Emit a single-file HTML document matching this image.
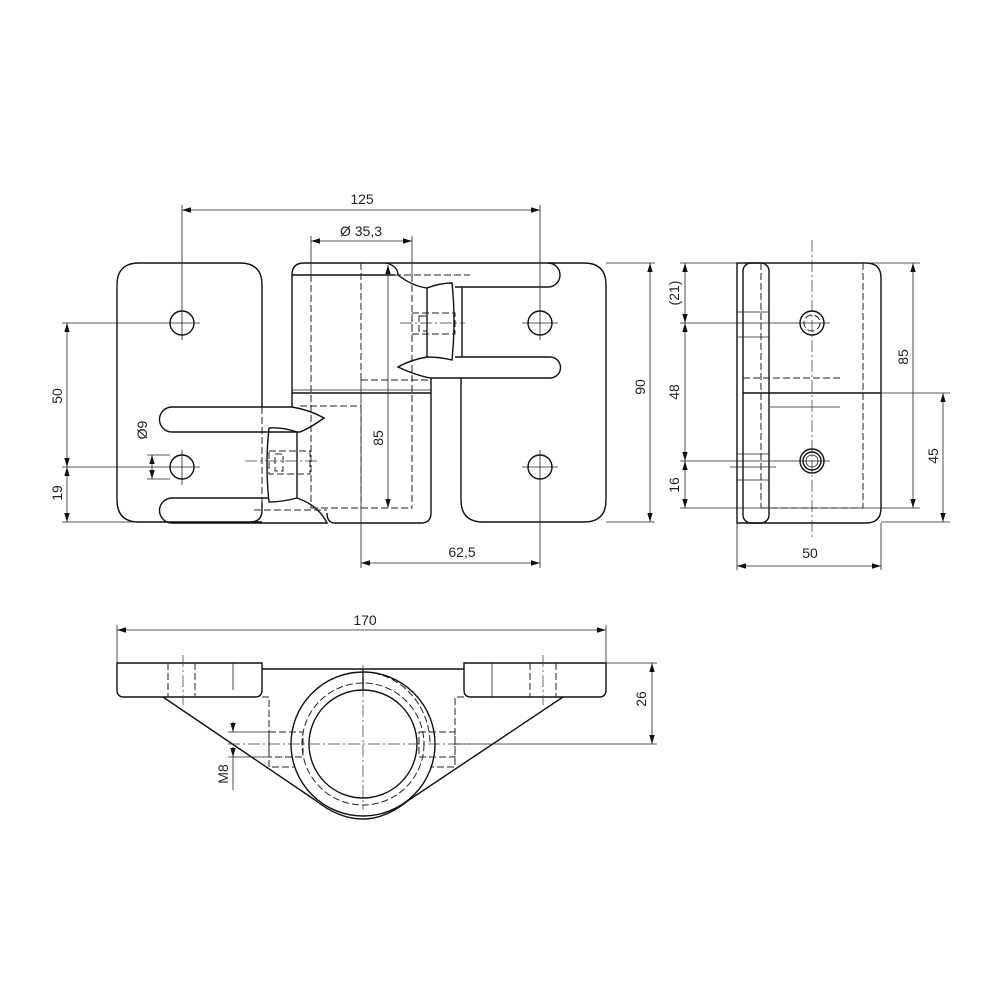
<!DOCTYPE html>
<html><head><meta charset="utf-8"><style>
html,body{margin:0;padding:0;background:#fff}
svg{display:block}
text{font-family:"Liberation Sans",sans-serif;font-size:14px;fill:#222}
.o{fill:none;stroke:#111;stroke-width:1.4}
.t{fill:none;stroke:#222;stroke-width:0.8}
.d{fill:none;stroke:#222;stroke-width:1;stroke-dasharray:7 3}
.c{fill:none;stroke:#333;stroke-width:0.7;stroke-dasharray:12 3 2 3}
</style></head><body>
<svg width="1000" height="1000" viewBox="0 0 1000 1000">
<defs>
<marker id="a" viewBox="0 0 10 10" refX="10" refY="5" markerWidth="9" markerHeight="9" orient="auto-start-reverse" markerUnits="userSpaceOnUse"><path d="M0,2 L10,5 L0,8z" fill="#111"/></marker>
</defs>

<!-- ========== FRONT VIEW ========== -->
<!-- left plate -->
<path class="o" d="M262,407 V285 Q262,263 240,263 H139 Q117,263 117,285 V500 Q117,522 139,522"/>
<path class="o" d="M262,502 V510 Q262,522 250,522"/>
<!-- right plate -->
<path class="o" d="M461,378 V500 Q461,522 483,522 H584 Q606,522 606,500 V285 Q606,263 584,263 H304 Q292,263 292,275 V407"/>
<line class="o" x1="462" y1="287" x2="462" y2="357"/>
<!-- upper slots -->
<path class="o" d="M455,287 H548 A12,12 0 0 0 548,263"/>
<path class="o" d="M430,378 H550 A10.5,10.5 0 0 0 550,357 H455"/>
<!-- upper knuckle -->
<path class="o" d="M386,263 Q398,266 398,275 Q412,286 427,288 V357 Q410,360 398,367 Q415,375 430,378"/>
<path class="o" d="M427,288 Q440,283 452,283 Q456,320 452,360 Q440,357 427,357"/>
<!-- body -->
<line class="o" x1="292" y1="275" x2="395" y2="275"/>
<line class="t" x1="292" y1="390" x2="431" y2="390"/>
<line class="o" x1="292" y1="393" x2="431" y2="393"/>
<path class="o" d="M431,378 V513 Q431,523 421,523 H335 Q327,523 327,513"/>
<!-- lower slots -->
<path class="o" d="M292,407 H172 A12.5,12.5 0 0 0 172,432 H300"/>
<path class="o" d="M292,407 Q310,410 324,418 Q310,428 300,432"/>
<path class="o" d="M269,428 Q282,427 297,432 V498 Q282,502 269,502 Q265,465 269,428"/>
<path class="o" d="M269,498 H172 A12.5,12.5 0 0 0 172,523 H327 Q318,505 297,498"/>
<line class="o" x1="139" y1="522" x2="262" y2="522"/>
<!-- hidden lines -->
<line class="d" x1="311" y1="275" x2="311" y2="508"/>
<line class="d" x1="361" y1="263" x2="361" y2="380"/>
<line class="d" x1="412" y1="275" x2="412" y2="508"/>
<line class="d" x1="361" y1="380" x2="430" y2="380"/>
<line class="d" x1="300" y1="406" x2="361" y2="406"/>
<line class="d" x1="361" y1="406" x2="361" y2="508"/>
<line class="d" x1="311" y1="508" x2="412" y2="508"/>
<line class="d" x1="254" y1="510" x2="327" y2="510"/>
<line class="d" x1="394" y1="275" x2="470" y2="275"/>
<line class="d" x1="262" y1="407" x2="262" y2="510"/>
<!-- screws -->
<rect class="d" x="412" y="313" width="43" height="21"/>
<rect class="d" x="419" y="316" width="8" height="15"/>
<rect class="d" x="269" y="451" width="41" height="23"/>
<rect class="d" x="275" y="454" width="8" height="17"/>
<line class="c" x1="400" y1="323" x2="465" y2="323"/>
<line class="c" x1="245" y1="461" x2="320" y2="461"/>
<!-- holes -->
<circle class="o" cx="182" cy="323" r="12"/><circle class="o" cx="182" cy="467" r="12"/>
<circle class="o" cx="540" cy="323" r="12"/><circle class="o" cx="540" cy="467" r="12"/>
<g class="t">
<line x1="182" y1="205" x2="182" y2="340"/><line x1="182" y1="450" x2="182" y2="485"/>
<line x1="540" y1="205" x2="540" y2="340"/><line x1="540" y1="450" x2="540" y2="568"/>
<line x1="62" y1="323" x2="200" y2="323"/><line x1="62" y1="467" x2="200" y2="467"/>
<line x1="522" y1="323" x2="558" y2="323"/><line x1="522" y1="467" x2="558" y2="467"/>
<line x1="62" y1="522" x2="139" y2="522"/>
<line x1="311" y1="236" x2="311" y2="275"/><line x1="412" y1="236" x2="412" y2="275"/>
<line x1="361" y1="380" x2="361" y2="568"/>
<line x1="606" y1="263" x2="655" y2="263"/><line x1="606" y1="522" x2="655" y2="522"/>
<line x1="147" y1="455" x2="170" y2="455"/><line x1="147" y1="479" x2="170" y2="479"/>
</g>
<!-- front dims -->
<g class="t">
<line x1="182" y1="210" x2="540" y2="210" marker-start="url(#a)" marker-end="url(#a)"/>
<line x1="311" y1="241" x2="412" y2="241" marker-start="url(#a)" marker-end="url(#a)"/>
<line x1="67" y1="323" x2="67" y2="467" marker-start="url(#a)" marker-end="url(#a)"/>
<line x1="67" y1="467" x2="67" y2="522" marker-start="url(#a)" marker-end="url(#a)"/>
<line x1="152" y1="455" x2="152" y2="479" marker-start="url(#a)" marker-end="url(#a)"/>
<line x1="388" y1="265" x2="388" y2="508" marker-start="url(#a)" marker-end="url(#a)"/>
<line x1="650" y1="263" x2="650" y2="522" marker-start="url(#a)" marker-end="url(#a)"/>
<line x1="361" y1="563" x2="540" y2="563" marker-start="url(#a)" marker-end="url(#a)"/>
</g>
<text x="362" y="204" text-anchor="middle">125</text>
<text x="361" y="236" text-anchor="middle">Ø 35,3</text>
<text x="462" y="557" text-anchor="middle">62,5</text>
<text transform="translate(62,396) rotate(-90)" text-anchor="middle">50</text>
<text transform="translate(62,493) rotate(-90)" text-anchor="middle">19</text>
<text transform="translate(147,430) rotate(-90)" text-anchor="middle">Ø9</text>
<text transform="translate(383,438) rotate(-90)" text-anchor="middle">85</text>
<text transform="translate(645,387) rotate(-90)" text-anchor="middle">90</text>

<!-- ========== SIDE VIEW ========== -->
<path class="o" d="M737,263 H866 Q881,263 881,278 V508 Q881,523 866,523 H737 Z"/>
<rect class="o" x="743" y="263" width="26" height="260" rx="8"/>
<line class="d" x1="761" y1="263" x2="761" y2="508"/>
<line class="d" x1="863" y1="263" x2="863" y2="508"/>
<line class="d" x1="761" y1="508" x2="863" y2="508"/>
<line class="o" x1="743" y1="393" x2="881" y2="393"/>
<line class="d" x1="743" y1="378" x2="840" y2="378"/>
<line class="t" x1="770" y1="407" x2="840" y2="407"/>
<g class="t"><line x1="737" y1="312" x2="769" y2="312"/><line x1="737" y1="337" x2="769" y2="337"/><line x1="737" y1="454" x2="769" y2="454"/><line x1="737" y1="480" x2="769" y2="480"/><line x1="730" y1="467" x2="776" y2="467"/></g>
<line class="c" x1="812" y1="240" x2="812" y2="540"/>
<circle class="o" cx="812" cy="323" r="12"/><circle class="d" cx="812" cy="323" r="8"/>
<circle class="o" cx="812" cy="461" r="12"/><circle class="o" cx="812" cy="461" r="9"/><circle class="t" cx="812" cy="461" r="6"/>
<g class="t">
<line x1="680" y1="263" x2="920" y2="263"/><line x1="680" y1="508" x2="920" y2="508"/>
<line x1="680" y1="323" x2="830" y2="323"/><line x1="680" y1="461" x2="830" y2="461"/>
<line x1="881" y1="393" x2="950" y2="393"/><line x1="881" y1="522" x2="950" y2="522"/>
<line x1="737" y1="523" x2="737" y2="570"/><line x1="881" y1="523" x2="881" y2="570"/>
<line x1="685" y1="263" x2="685" y2="323" marker-start="url(#a)" marker-end="url(#a)"/>
<line x1="685" y1="323" x2="685" y2="461" marker-start="url(#a)" marker-end="url(#a)"/>
<line x1="685" y1="461" x2="685" y2="508" marker-start="url(#a)" marker-end="url(#a)"/>
<line x1="913" y1="263" x2="913" y2="508" marker-start="url(#a)" marker-end="url(#a)"/>
<line x1="943" y1="393" x2="943" y2="522" marker-start="url(#a)" marker-end="url(#a)"/>
<line x1="737" y1="566" x2="881" y2="566" marker-start="url(#a)" marker-end="url(#a)"/>
</g>
<text transform="translate(679,293) rotate(-90)" text-anchor="middle">(21)</text>
<text transform="translate(679,392) rotate(-90)" text-anchor="middle">48</text>
<text transform="translate(679,485) rotate(-90)" text-anchor="middle">16</text>
<text transform="translate(908,357) rotate(-90)" text-anchor="middle">85</text>
<text transform="translate(938,456) rotate(-90)" text-anchor="middle">45</text>
<text x="810" y="558" text-anchor="middle">50</text>

<!-- ========== BOTTOM VIEW ========== -->
<path class="o" d="M262,663 V690 Q262,697 255,697 H124 Q117,697 117,690 V663 Z"/>
<path class="o" d="M464,663 V690 Q464,697 471,697 H599 Q606,697 606,690 V663 Z"/>
<line class="o" x1="262" y1="669" x2="464" y2="669"/>
<g class="d"><line x1="168" y1="663" x2="168" y2="697"/><line x1="195" y1="663" x2="195" y2="697"/><line x1="530" y1="663" x2="530" y2="697"/><line x1="556" y1="663" x2="556" y2="697"/></g>
<g class="c"><line x1="183" y1="655" x2="183" y2="705"/><line x1="543" y1="655" x2="543" y2="705"/></g>
<line class="t" x1="233" y1="663" x2="233" y2="690"/><line class="t" x1="492" y1="663" x2="492" y2="697"/>
<path class="d" d="M262,697 H269 V767 H294"/>
<path class="d" d="M464,697 H455 V767 H430"/>
<line class="o" x1="163" y1="697" x2="315" y2="800"/>
<line class="o" x1="563" y1="697" x2="409" y2="800"/>
<path class="o" d="M315,800 Q363,838 409,800"/>
<circle class="o" cx="363" cy="744" r="72"/>
<circle class="d" cx="363" cy="744" r="61"/>
<circle class="o" cx="363" cy="744" r="54"/>
<path class="d" d="M363,672 A68,72 0 0 1 430,744"/>
<line class="o" x1="363" y1="669" x2="363" y2="690"/>
<line class="c" x1="363" y1="665" x2="363" y2="810"/>
<line class="c" x1="228" y1="744" x2="470" y2="744"/>
<rect class="d" x="269" y="732" width="34" height="25"/>
<rect class="d" x="419" y="732" width="36" height="25"/>
<g class="t">
<line x1="228" y1="732" x2="269" y2="732"/><line x1="228" y1="757" x2="269" y2="757"/>
<line x1="233" y1="722" x2="233" y2="732" marker-end="url(#a)"/>
<line x1="233" y1="757" x2="233" y2="790"/>
<line x1="233" y1="757" x2="233" y2="747" marker-start="url(#a)"/>
<line x1="117" y1="625" x2="117" y2="663"/><line x1="606" y1="625" x2="606" y2="663"/>
<line x1="606" y1="663" x2="657" y2="663"/><line x1="455" y1="744" x2="657" y2="744"/>
<line x1="117" y1="630" x2="606" y2="630" marker-start="url(#a)" marker-end="url(#a)"/>
<line x1="652" y1="663" x2="652" y2="744" marker-start="url(#a)" marker-end="url(#a)"/>
</g>
<text x="365" y="625" text-anchor="middle">170</text>
<text transform="translate(646,699) rotate(-90)" text-anchor="middle">26</text>
<text transform="translate(228,774) rotate(-90)" text-anchor="middle">M8</text>
</svg>
</body></html>
